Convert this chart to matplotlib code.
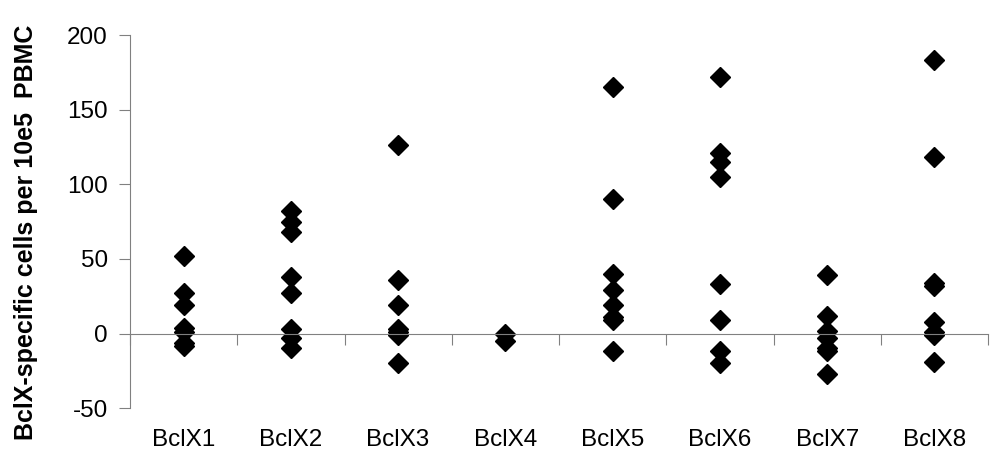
import matplotlib
matplotlib.use('Agg')
import matplotlib.pyplot as plt

plt.rcParams['font.family'] = ['Liberation Sans', 'DejaVu Sans']
plt.rcParams['axes.unicode_minus'] = False

# values, one list per peptide
categories = ['BclX1', 'BclX2', 'BclX3', 'BclX4', 'BclX5', 'BclX6', 'BclX7', 'BclX8']
values = [
    [52, 27, 19, 4, 1, -6, -8],
    [82, 75, 68, 38, 27, 3, -3, -10],
    [126, 36, 19, 3, 1, -1, -20],
    [0, -5],
    [165, 90, 40, 29, 19, 11, 9, -12],
    [172, 121, 115, 105, 33, 9, -12, -20],
    [39, 12, 2, -3, -10, -12, -27],
    [183, 118, 34, 32, 8, 1, -1, -19],
]
y_ticks = [-50, 0, 50, 100, 150, 200]

fig = plt.figure(figsize=(10, 4.73), dpi=100)
ax = fig.add_axes([0.13, 0.137, 0.858, 0.789])

for i, vals in enumerate(values):
    ax.plot([i + 1] * len(vals), vals, linestyle='none', marker='D',
            markersize=10, color='black', clip_on=False)

ax.set_xlim(0.5, len(categories) + 0.5)
ax.set_ylim(-50, 200)

# x axis sits at zero, ticks between categories
ax.spines['top'].set_visible(False)
ax.spines['right'].set_visible(False)
ax.spines['bottom'].set_position(('data', 0))
ax.spines['bottom'].set_color('#808080')
ax.spines['left'].set_color('#808080')
ax.set_xticks([i + 0.5 for i in range(len(categories) + 1)])
ax.set_xticklabels([])
ax.tick_params(axis='x', direction='out', length=8, color='#808080')

for i, name in enumerate(categories):
    ax.text(i + 1, -0.055, name, transform=ax.get_xaxis_transform(),
            ha='center', va='top', fontsize=17.5)

ax.set_yticks(y_ticks)
ax.tick_params(axis='y', direction='out', length=8, color='#808080',
               labelsize=17.5, pad=8)
ax.set_ylabel('BclX-specific cells per 10e5  PBMC', fontsize=18,
              fontweight='bold')
ax.yaxis.set_label_coords(-0.107, 0.47)

fig.savefig('out.png', dpi=100)
